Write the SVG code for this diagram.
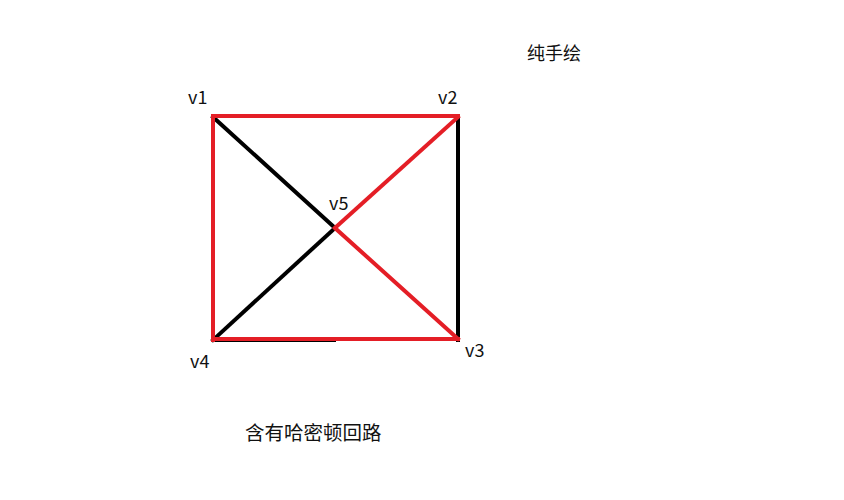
<svg xmlns="http://www.w3.org/2000/svg" width="844" height="500" viewBox="0 0 844 500">
<style>
.t{font-family:"Noto Sans CJK SC","Microsoft YaHei","Liberation Sans",sans-serif;font-size:18px;fill:#111}
.k{stroke:#000;stroke-width:4;stroke-linecap:square;fill:none}
.r{stroke:#e41e26;stroke-width:4;stroke-linecap:square;fill:none}
</style>
<rect width="844" height="500" fill="#fff"/>
<g id="connectors">
<line class="k" x1="458" y1="116" x2="458" y2="340"/>
<line class="k" x1="213" y1="117" x2="335" y2="228"/>
<line class="k" x1="335" y1="228" x2="213" y2="340"/>
<line class="k" x1="213" y1="340" x2="334" y2="340"/>
<line class="r" x1="213" y1="116" x2="458" y2="116"/>
<line class="r" x1="213" y1="116" x2="213" y2="340"/>
<line class="r" x1="213" y1="339" x2="458" y2="339"/>
<line class="r" x1="458" y1="117" x2="335" y2="228"/>
<line class="r" x1="335" y1="228" x2="458" y2="339"/>
</g>
<g id="v1"><text class="t" x="188" y="104">v1</text></g>
<g id="v2"><text class="t" x="438" y="104">v2</text></g>
<g id="v5"><text class="t" x="329" y="210">v5</text></g>
<g id="v4"><text class="t" x="190" y="368">v4</text></g>
<g id="v3"><text class="t" x="465" y="357">v3</text></g>
<g id="note"><text class="t" x="527" y="60" font-size="19">纯手绘</text></g>
<g id="caption"><text class="t" x="245" y="440" style="font-size:19.5px">含有哈密顿回路</text></g>
</svg>
